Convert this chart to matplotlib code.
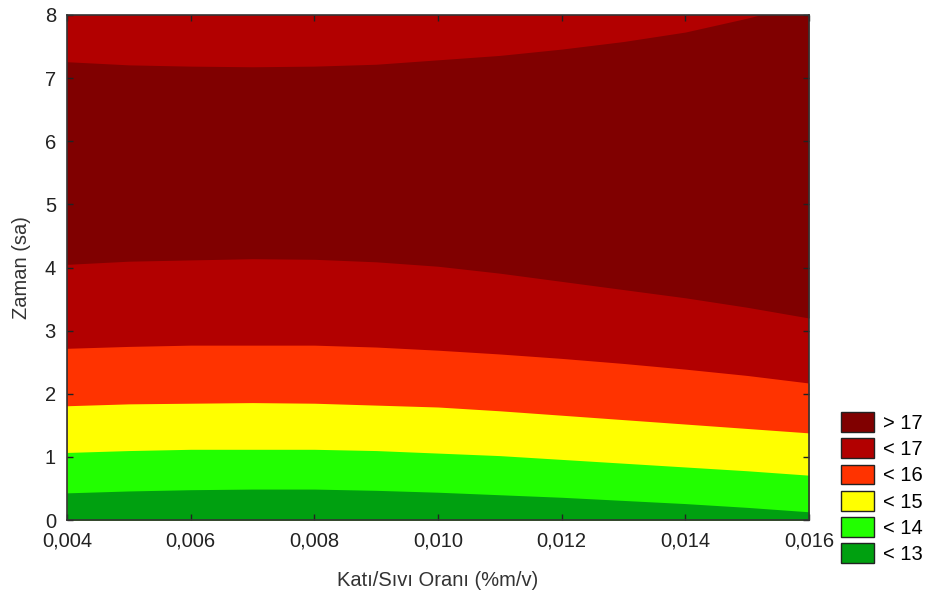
import numpy as np
import matplotlib
matplotlib.use("Agg")
import matplotlib.pyplot as plt
from matplotlib.patches import Patch

plt.rcParams['font.family'] = ['Liberation Sans', 'DejaVu Sans']

# solid/liquid ratio grid where the contour boundaries were taken
ratio = [0.004, 0.005, 0.006, 0.007, 0.008, 0.009, 0.010,
         0.011, 0.012, 0.013, 0.014, 0.015, 0.016]

# time (h) of each iso-line along that grid
line_13 = [0.43, 0.46, 0.48, 0.49, 0.49, 0.47, 0.44, 0.40, 0.36, 0.31, 0.26, 0.20, 0.13]
line_14 = [1.07, 1.10, 1.12, 1.12, 1.12, 1.10, 1.06, 1.02, 0.96, 0.90, 0.84, 0.78, 0.71]
line_15 = [1.81, 1.84, 1.85, 1.86, 1.85, 1.82, 1.79, 1.73, 1.66, 1.59, 1.52, 1.45, 1.38]
line_16 = [2.72, 2.75, 2.77, 2.77, 2.77, 2.74, 2.69, 2.63, 2.56, 2.48, 2.39, 2.29, 2.17]
line_17_low = [4.05, 4.10, 4.12, 4.14, 4.13, 4.09, 4.02, 3.91, 3.78, 3.65, 3.52, 3.37, 3.20]
line_17_high = [7.26, 7.21, 7.19, 7.18, 7.19, 7.22, 7.29, 7.36, 7.46, 7.58, 7.73, 7.95, 8.20]

levels = ["> 17", "< 17", "< 16", "< 15", "< 14", "< 13"]
colors = ["#800000", "#b20000", "#ff3300", "#ffff00", "#22ff00", "#00a010"]

x_ticks = [0.004, 0.006, 0.008, 0.010, 0.012, 0.014, 0.016]
x_labels = ["0,004", "0,006", "0,008", "0,010", "0,012", "0,014", "0,016"]
y_ticks = [0, 1, 2, 3, 4, 5, 6, 7, 8]

x = np.array(ratio)
y_min, y_max = 0, 8
fs = 14.5

fig = plt.figure(figsize=(9.28, 5.99), dpi=100)
ax = fig.add_axes([67 / 928, 79 / 599, 742 / 928, 505 / 599])

# bands stacked from the top down so each one covers the previous
ax.fill_between(x, y_min, y_max, color=colors[1], lw=0)
ax.fill_between(x, line_17_low, line_17_high, color=colors[0], lw=0)
ax.fill_between(x, y_min, line_16, color=colors[2], lw=0)
ax.fill_between(x, y_min, line_15, color=colors[3], lw=0)
ax.fill_between(x, y_min, line_14, color=colors[4], lw=0)
ax.fill_between(x, y_min, line_13, color=colors[5], lw=0)

ax.set_xlim(x_ticks[0], x_ticks[-1])
ax.set_ylim(y_min, y_max)
ax.set_xticks(x_ticks)
ax.set_xticklabels(x_labels)
ax.set_yticks(y_ticks)
ax.tick_params(direction='in', top=True, right=True, length=4, width=1,
               labelsize=fs, colors='#222222', pad=8)
for s in ax.spines.values():
    s.set_color('#333333')
    s.set_linewidth(1.2)

ax.set_xlabel("Katı/Sıvı Oranı (%m/v)", fontsize=fs, color='#333333', labelpad=15)
ax.set_ylabel("Zaman (sa)", fontsize=fs, color='#333333', labelpad=10)

handles = [Patch(facecolor=c, edgecolor='#222222', lw=1) for c in colors]
ax.legend(handles, levels, loc='upper left', bbox_to_anchor=(841 / 928, 187 / 599),
          bbox_transform=fig.transFigure, frameon=False, fontsize=fs,
          handlelength=1.65, handleheight=1.15, labelspacing=0.27,
          handletextpad=0.45, borderaxespad=0, borderpad=0)

fig.savefig("out.png", dpi=100)
